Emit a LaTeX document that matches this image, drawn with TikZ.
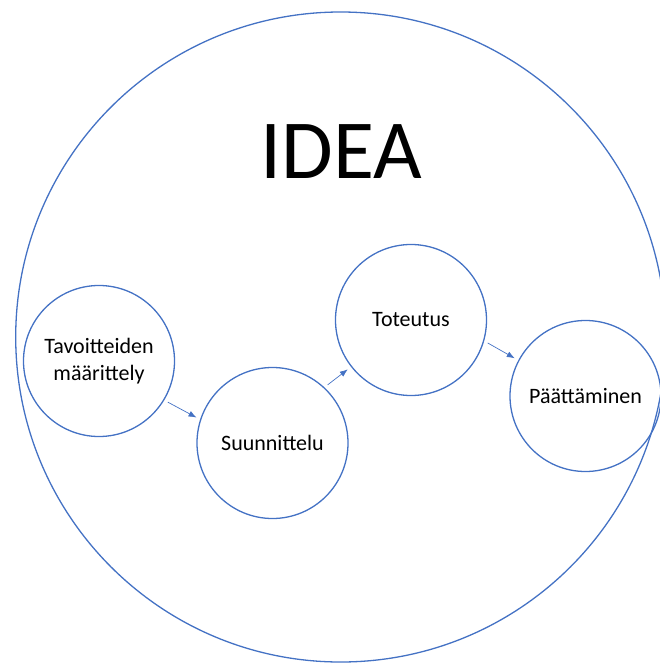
\documentclass[tikz,border=0pt]{standalone}
\usepackage{fontspec}
\setmainfont{Carlito}
\usetikzlibrary{arrows.meta}
\definecolor{ideablue}{HTML}{4472C4}
\tikzset{
    phase/.style={circle, draw=ideablue, line width=1.3pt, minimum size=151pt, inner sep=0pt,
        align=center, font=\fontsize{22}{27.3}\selectfont},
    flow/.style={draw=ideablue, line width=0.7pt, -{Latex[length=8pt, width=6pt]},
        shorten <=4pt, shorten >=4pt},
}
\begin{document}
\begin{tikzpicture}[x=1pt, y=-1pt]
    \def\phase#1#2#3{%
        \node[phase] (#1) at (#2) {#3};
    }

    \useasboundingbox (0,0) rectangle (660,664);

    % outer circle and title
    \node[circle, draw=ideablue, line width=1.3pt, minimum size=650pt, inner sep=0pt] (idea) at (340.7,337) {};
    \node[font=\fontsize{84}{90}\selectfont, inner sep=0pt] (title) at (341,152) {IDEA};

    \phase{tav}{99,361}{Tavoitteiden\\määrittely}
    \phase{suu}{272.5,443}{Suunnittelu}
    \phase{tot}{411,320}{Toteutus}
    \phase{paa}{585.5,396}{Päättäminen}

    \draw[flow] (tav.-31) -- (suu.162);
    \draw[flow] (suu.47) -- (tot.-142);
    \draw[flow] (tot.-16) -- (paa.152);
\end{tikzpicture}
\end{document}
